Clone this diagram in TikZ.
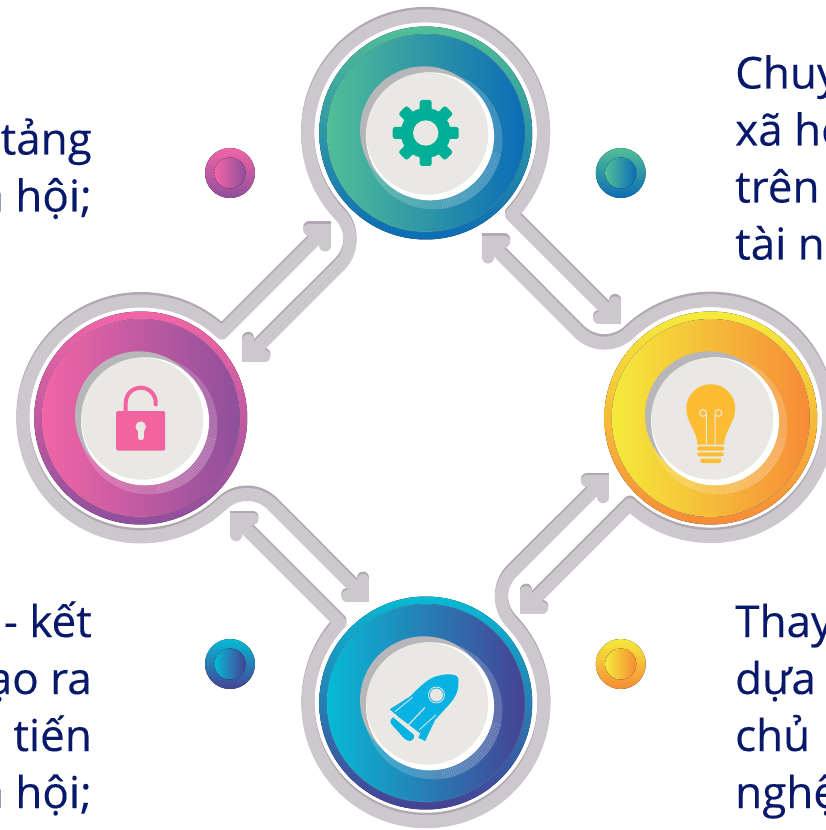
\documentclass[tikz,border=0pt]{standalone}
\usepackage{fontspec}
\setmainfont[FakeBold=0.2]{Open Sans}
\usetikzlibrary{calc}
\definecolor{trackmain}{HTML}{CDC7CE}
\definecolor{trackedge}{HTML}{B1A9B2}
\definecolor{discface}{HTML}{E9E8E4}
\definecolor{discdark}{HTML}{B7B6B8}
\definecolor{labelnavy}{HTML}{08196B}
\definecolor{greenA}{HTML}{50BF97}
\definecolor{greenB}{HTML}{0B6CB6}
\definecolor{pinkA}{HTML}{F265A6}
\definecolor{pinkB}{HTML}{8E4F9C}
\definecolor{sunA}{HTML}{F5EB3B}
\definecolor{sunB}{HTML}{F68B37}
\definecolor{seaA}{HTML}{06BAD4}
\definecolor{seaB}{HTML}{474195}
\definecolor{gearcolor}{HTML}{00AF96}
\definecolor{lockcolor}{HTML}{F2639F}
\definecolor{bulbcolor}{HTML}{FDBD33}
\definecolor{rocketcolor}{HTML}{08B2E3}
\tikzset{
	bodytext/.style={font=\fontsize{44}{57}\selectfont, text=labelnavy, inner sep=0pt},
}
\def\trackdraw[#1]{
	\draw[#1, line width=13, line join=round] (189.25,100.5) -- (85.7,204) arc[start angle=-43.3, end angle=223.6, radius=118] arc[start angle=43.6, end angle=-45, radius=36] -- (-177.25,62.5);
	\draw[#1, line width=12, line cap=round, line join=miter] (173.25,100.5) -- (189.25,100.5) -- (189.25,116.5);
	\draw[#1, line width=12, line cap=round, line join=miter] (-177.25,78.5) -- (-177.25,62.5) -- (-161.25,62.5);
}
\def\ringbadge(#1)#2#3{
	\begin{scope}[shift={(#1)}]
		\fill[top color=#2, bottom color=#3] (0,0) circle (106.5);
		\fill[left color=#2, right color=#3] (0,0) circle (99);
		\draw[white, opacity=0.2, line width=0.5] (0,0) circle (99);
		\fill[white, opacity=0.18] (7.7,-7.3) circle (69);
		\foreach \t in {-82,-80,...,-12} {
			\draw[white, opacity=0.3, line width=0.3] ($(7.7,-7.3)+(\t:60)$) -- ($(7.7,-7.3)+(\t:69)$);
		}
		\fill[discdark] (-1.7,2.7) circle (64);
		\fill[white] (4.3,-3.3) circle (64);
		\fill[discface] (1.5,-0.7) circle (61);
	\end{scope}
}
\def\ringdot(#1)#2#3{
	\fill[top color=#2, bottom color=#3] (#1) circle (25);
	\fill[left color=#2, right color=#3] (#1) circle (15.5);
}

\begin{document}
\begin{tikzpicture}[x=1pt,y=1pt]
	\useasboundingbox (-425.75,-412) rectangle (399.25,418);
	
	%%%%% TRACKS %%%%%
	\foreach \a in {0,90,180,270} {
		\trackdraw[trackedge, shift={(0,1.7)}, rotate=\a]
	}
	\foreach \a in {0,90,180,270} {
		\trackdraw[trackmain, shift={(0,-0.8)}, rotate=\a]
	}
	
	%%%%% BADGES %%%%%
	\ringbadge(0,285){greenA}{greenB}
	\ringbadge(-285,0){pinkA}{pinkB}
	\ringbadge(285,0){sunA}{sunB}
	\ringbadge(0,-285){seaA}{seaB}
	
	\ringdot(-195.75,245){pinkA}{pinkB}
	\ringdot(195,245){greenA}{greenB}
	\ringdot(-195.75,-246){seaA}{seaB}
	\ringdot(195,-246){sunA}{sunB}
	
	%%%%% GEAR %%%%%
	\begin{scope}[shift={(0,285)}]
		\foreach \a in {0,45,...,315} {
			\fill[gearcolor, rounded corners=2.5, rotate=\a] (18,-6) rectangle (33,6);
		}
		\fill[gearcolor] (0,0) circle (25);
		\fill[discface] (0,0) circle (12.7);
	\end{scope}
	
	%%%%% LOCK %%%%%
	\begin{scope}[shift={(-285,0)}]
		\draw[lockcolor, line width=4, line cap=round] (-15,7) -- (-15,15.3) arc[start angle=180, end angle=0, radius=15] -- (15,13.5);
		\fill[lockcolor, rounded corners=1.5] (-24.5,7) rectangle (24.5,-32.7);
		\fill[discface] (0,-8.7) circle (5.3);
		\draw[discface, line width=5.6, line cap=round] (0,-9) -- (0,-19.5);
	\end{scope}
	
	%%%%% BULB %%%%%
	\begin{scope}[shift={(285,0)}]
		\fill[bulbcolor] (-13.3,-26.7) .. controls (-13.3,-14) and (-24.5,-4) .. (-24.5,9.3) arc[start angle=180, end angle=0, radius=24.5] .. controls (24.5,-4) and (13.3,-14) .. (13.3,-26.7) -- cycle;
		\fill[bulbcolor, rounded corners=2] (-13.5,-28.3) rectangle (13.5,-32.7);
		\fill[bulbcolor, rounded corners=2] (-13.5,-34.3) rectangle (13,-38.3);
		\fill[bulbcolor, rounded corners=2] (-10.5,-40.7) rectangle (10.5,-45);
		\draw[discface, line width=1] (-4.3,-26.7) -- (-4.3,5) arc[start angle=0, end angle=340, radius=3.4];
		\draw[discface, line width=1] (4.3,-26.7) -- (4.3,5) arc[start angle=180, end angle=-160, radius=3.4];
	\end{scope}
	
	%%%%% ROCKET %%%%%
	\begin{scope}[shift={(0,-285)}]
		\fill[rocketcolor] (-36,-6.3) -- (-15,7) .. controls (-7,15) and (2,25) .. (11.7,27) .. controls (18,29) and (25,29) .. (28.3,28) .. controls (32,27) and (33,25) .. (32.7,23) .. controls (33,17) and (32,12) .. (30,8) .. controls (27,2) and (23,-2) .. (18.3,-7) -- (9.3,-17) -- (-0.7,-38) -- (-7.3,-34.7) -- (-4.3,-27.7) -- (-6,-30) -- (-27,-14) -- cycle;
		\fill[rocketcolor] (-32.7,-14.3) .. controls (-35,-16) and (-36,-18) .. (-35,-20.3) -- (-21.7,-35.3) .. controls (-19,-37.5) and (-17,-38) .. (-15,-38) .. controls (-12,-37) and (-11,-34) .. (-11.7,-32) -- cycle;
		\draw[discface, line width=0.8] (-30.7,-8.7) -- (-13.3,5.7);
		\draw[discface, line width=0.8] (-6.7,-27) -- (10,-12);
		\draw[discface, line width=1.1] (-18.3,-23) -- (-1,-4.7);
		\draw[discface, line width=0.8] (10.7,8) circle (8);
		\fill[discface] (10.7,8) circle (6.5);
	\end{scope}
	
	%%%%% LABELS %%%%%
	\node[bodytext, anchor=base east, align=right] (lefttop) at (-333.75,206.5) {tảng\\xã hội;};
	\node[bodytext, anchor=base east, align=right] (leftbottom) at (-333.75,-390) {- kết\\tạo ra\\tiến\\xã hội;};
	\node[bodytext, anchor=base west, align=left] (righttop) at (309.25,158.5) {Chuy\\xã hộ\\trên\\tài n};
	\node[bodytext, anchor=base west, align=left] (rightbottom) at (309.25,-390) {Thay\\dựa\\chủ\\nghệ};
\end{tikzpicture}
\end{document}
